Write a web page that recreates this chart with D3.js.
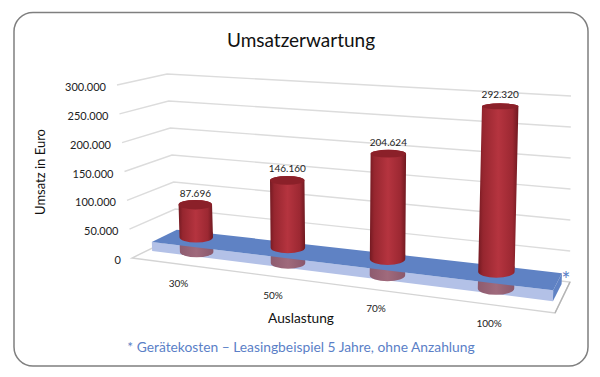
<!DOCTYPE html>
<html><head><meta charset="utf-8">
<script src="https://cdn.jsdelivr.net/npm/d3@7/dist/d3.min.js"></script>
<style>html,body{margin:0;padding:0;background:#fff}svg{display:block}text{font-family:Lato,"Noto Sans",sans-serif}</style>
</head><body><svg id="c" width="600" height="377"></svg>
<script>
const categories = ["30%","50%","70%","100%"];
const revenue = [87696,146160,204624,292320];
const yTicks = [0,50000,100000,150000,200000,250000,300000];
const plateValue = 17000;
const title = "Umsatzerwartung";
const yTitle = "Umsatz in Euro";
const xTitle = "Auslastung";
const footnote = "* Gerätekosten – Leasingbeispiel 5 Jahre, ohne Anzahlung";

const svg = d3.select("#c");
const fmt = d3.formatLocale({thousands:".",grouping:[3],decimal:",",currency:["","€"]}).format(",d");
const maxV = 300000;

// floor plane perspective
const Q = [[132,258],[555,313],[570,282],[177,236]];
const H = (()=>{const [[x0,y0],[x1,y1],[x2,y2],[x3,y3]]=Q;
  const dx1=x1-x2,dx2=x3-x2,sx=x0-x1+x2-x3,dy1=y1-y2,dy2=y3-y2,sy=y0-y1+y2-y3;
  const den=dx1*dy2-dx2*dy1,g=(sx*dy2-dx2*sy)/den,h=(dx1*sy-sx*dy1)/den;
  const a=x1-x0+g*x1,b=x3-x0+h*x3,d=y1-y0+g*y1,e=y3-y0+h*y3;
  return (u,v)=>{const w=g*u+h*v+1;return [(a*u+b*v+x0)/w,(d*u+e*v+y0)/w];};})();
const uScale = d3.scalePoint().domain(categories).range([-.005,.982]).padding(0.5);
const kScale = d3.scaleLinear().domain([0,1]).range([.521,.64]);   // px per 1000 at the bar row
const leanScale = d3.scaleLinear().domain([0,1]).range([-6,6]);    // px lean per full axis
const P = (u,v,val)=>{const [x,y]=H(u,v);
  return [x+leanScale(u)*val/maxV, y-kScale(u)*val/1000];};
const widthScale = d3.scaleLinear().domain([0,1]).range([33,37]);
const rySc = d3.scaleLinear().domain([106,270]).range([3,6]);

// panel
svg.append("rect").attr("x",14).attr("y",12.5).attr("width",574).attr("height",353.5).attr("rx",19)
  .attr("fill","#fff").attr("stroke","#7f7f7f").attr("stroke-width",1.5);

// gridlines via edge scales
const edge = (x0,x1,y0,y1)=>({x:d3.scaleLinear([0,maxV],[x0,x1]),y:d3.scaleLinear([0,maxV],[y0,y1])});
const fl = edge(132,117,258,85), bl = edge(177,167,236,74), br = edge(570,571,282,96);
const line = d3.line();
svg.append("g").selectAll("path").data(yTicks.slice(1)).join("path")
  .attr("d",t=>line([[fl.x(t),fl.y(t)],[bl.x(t),bl.y(t)],[br.x(t),br.y(t)]]))
  .attr("fill","none").attr("stroke","#dcdcdc").attr("stroke-width",1.4);

// floor
svg.append("path").attr("d",line(Q)+"Z").attr("fill","#fff").attr("stroke","#d4d4d4").attr("stroke-width",1.4);
svg.append("path").attr("d",line([Q[1],Q[2]])).attr("fill","none").attr("stroke","#b4b4b4").attr("stroke-width",1.4);

// y tick labels
svg.append("g").selectAll("text").data(yTicks).join("text")
  .attr("x",t=>fl.x(t)-11).attr("y",t=>fl.y(t)+6).attr("text-anchor","end")
  .attr("font-size",11).attr("fill","#222").text(fmt);

// gradients
const defs = svg.append("defs");
const grad = (id,stops)=>{const g=defs.append("linearGradient").attr("id",id);
  stops.forEach(([o,c])=>g.append("stop").attr("offset",o).attr("stop-color",c));};
grad("red",[[0,"#741a22"],[.12,"#96262f"],[.5,"#b5343f"],[.85,"#9c2832"],[1,"#6f1920"]]);
grad("ghost",[[0,"#8d5b6f"],[.5,"#a06a7c"],[1,"#8a586c"]]);

// plate
const pu=[.013,.985], pv=[.33,.9];
const plateBottom=[P(pu[0],pv[0],0),P(pu[1],pv[0],0),P(pu[1],pv[1],0)];
const plateTop=[P(pu[0],pv[0],plateValue),P(pu[1],pv[0],plateValue),P(pu[1],pv[1],plateValue),P(pu[0],pv[1],plateValue)];
svg.append("path").attr("d",line([plateTop[0],plateTop[1],plateBottom[1],plateBottom[0]])+"Z").attr("fill","#b3c1e7");

const barV = .5, cutValue = 27000;
const cyl=(d,i,fromVal,toVal)=>{
  const u=uScale(categories[i]), w=widthScale(u)/2;
  const b=P(u,barV,fromVal), t=P(u,barV,toVal), rb=rySc(b[1]), rt=rySc(t[1]);
  return {u,w,b,t,rb,rt,
    d:`M${t[0]-w},${t[1]}L${b[0]-w},${b[1]}A${w},${rb} 0 0 0 ${b[0]+w},${b[1]}L${t[0]+w},${t[1]}A${w},${rt} 0 0 0 ${t[0]-w},${t[1]}Z`};
};
// submerged part below the plate
svg.append("g").selectAll("path").data(revenue).join("path")
  .attr("d",(d,i)=>cyl(d,i,0,plateValue*2).d).attr("fill","url(#ghost)");
// plate top + side
svg.append("path").attr("d",line(plateTop)+"Z").attr("fill","#5f82c4");
svg.append("path").attr("d",line([plateTop[1],plateBottom[1],plateBottom[2],plateTop[2]])+"Z").attr("fill","#5f82c4");

// bars
const bars = svg.append("g").selectAll("g").data(revenue).join("g");
bars.append("path").attr("d",(d,i)=>cyl(d,i,cutValue,d).d).attr("fill","url(#red)");
bars.append("ellipse")
  .attr("cx",(d,i)=>cyl(d,i,cutValue,d).t[0]).attr("cy",(d,i)=>cyl(d,i,cutValue,d).t[1])
  .attr("rx",(d,i)=>cyl(d,i,cutValue,d).w).attr("ry",(d,i)=>cyl(d,i,cutValue,d).rt)
  .attr("fill","#8b2029");
bars.append("text")
  .attr("x",(d,i)=>cyl(d,i,cutValue,d).t[0]).attr("y",(d,i)=>cyl(d,i,cutValue,d).t[1]-8)
  .attr("text-anchor","middle").attr("font-size",10).attr("fill","#222").text(fmt);

// category labels
svg.append("g").selectAll("text").data(categories).join("text")
  .attr("x",c=>H(uScale(c),0)[0]+4).attr("y",c=>H(uScale(c),0)[1]+23)
  .attr("text-anchor","middle").attr("font-size",10).attr("fill","#222").text(c=>c);

// titles
svg.append("text").attr("x",301).attr("y",47).attr("text-anchor","middle").attr("font-size",19).attr("fill","#111").text(title);
svg.append("text").attr("transform","translate(45,172) rotate(-90)").attr("text-anchor","middle").attr("font-size",13).attr("fill","#111").text(yTitle);
svg.append("text").attr("x",301).attr("y",323).attr("text-anchor","middle").attr("font-size",13.7).attr("fill","#111").text(xTitle);
svg.append("text").attr("x",301).attr("y",352).attr("text-anchor","middle").attr("font-size",13.8).attr("fill","#5b7fc7").text(footnote);
svg.append("text").attr("x",566).attr("y",287).attr("text-anchor","middle").attr("font-size",21).attr("fill","#5b7fc7").text("*");
</script></body></html>
